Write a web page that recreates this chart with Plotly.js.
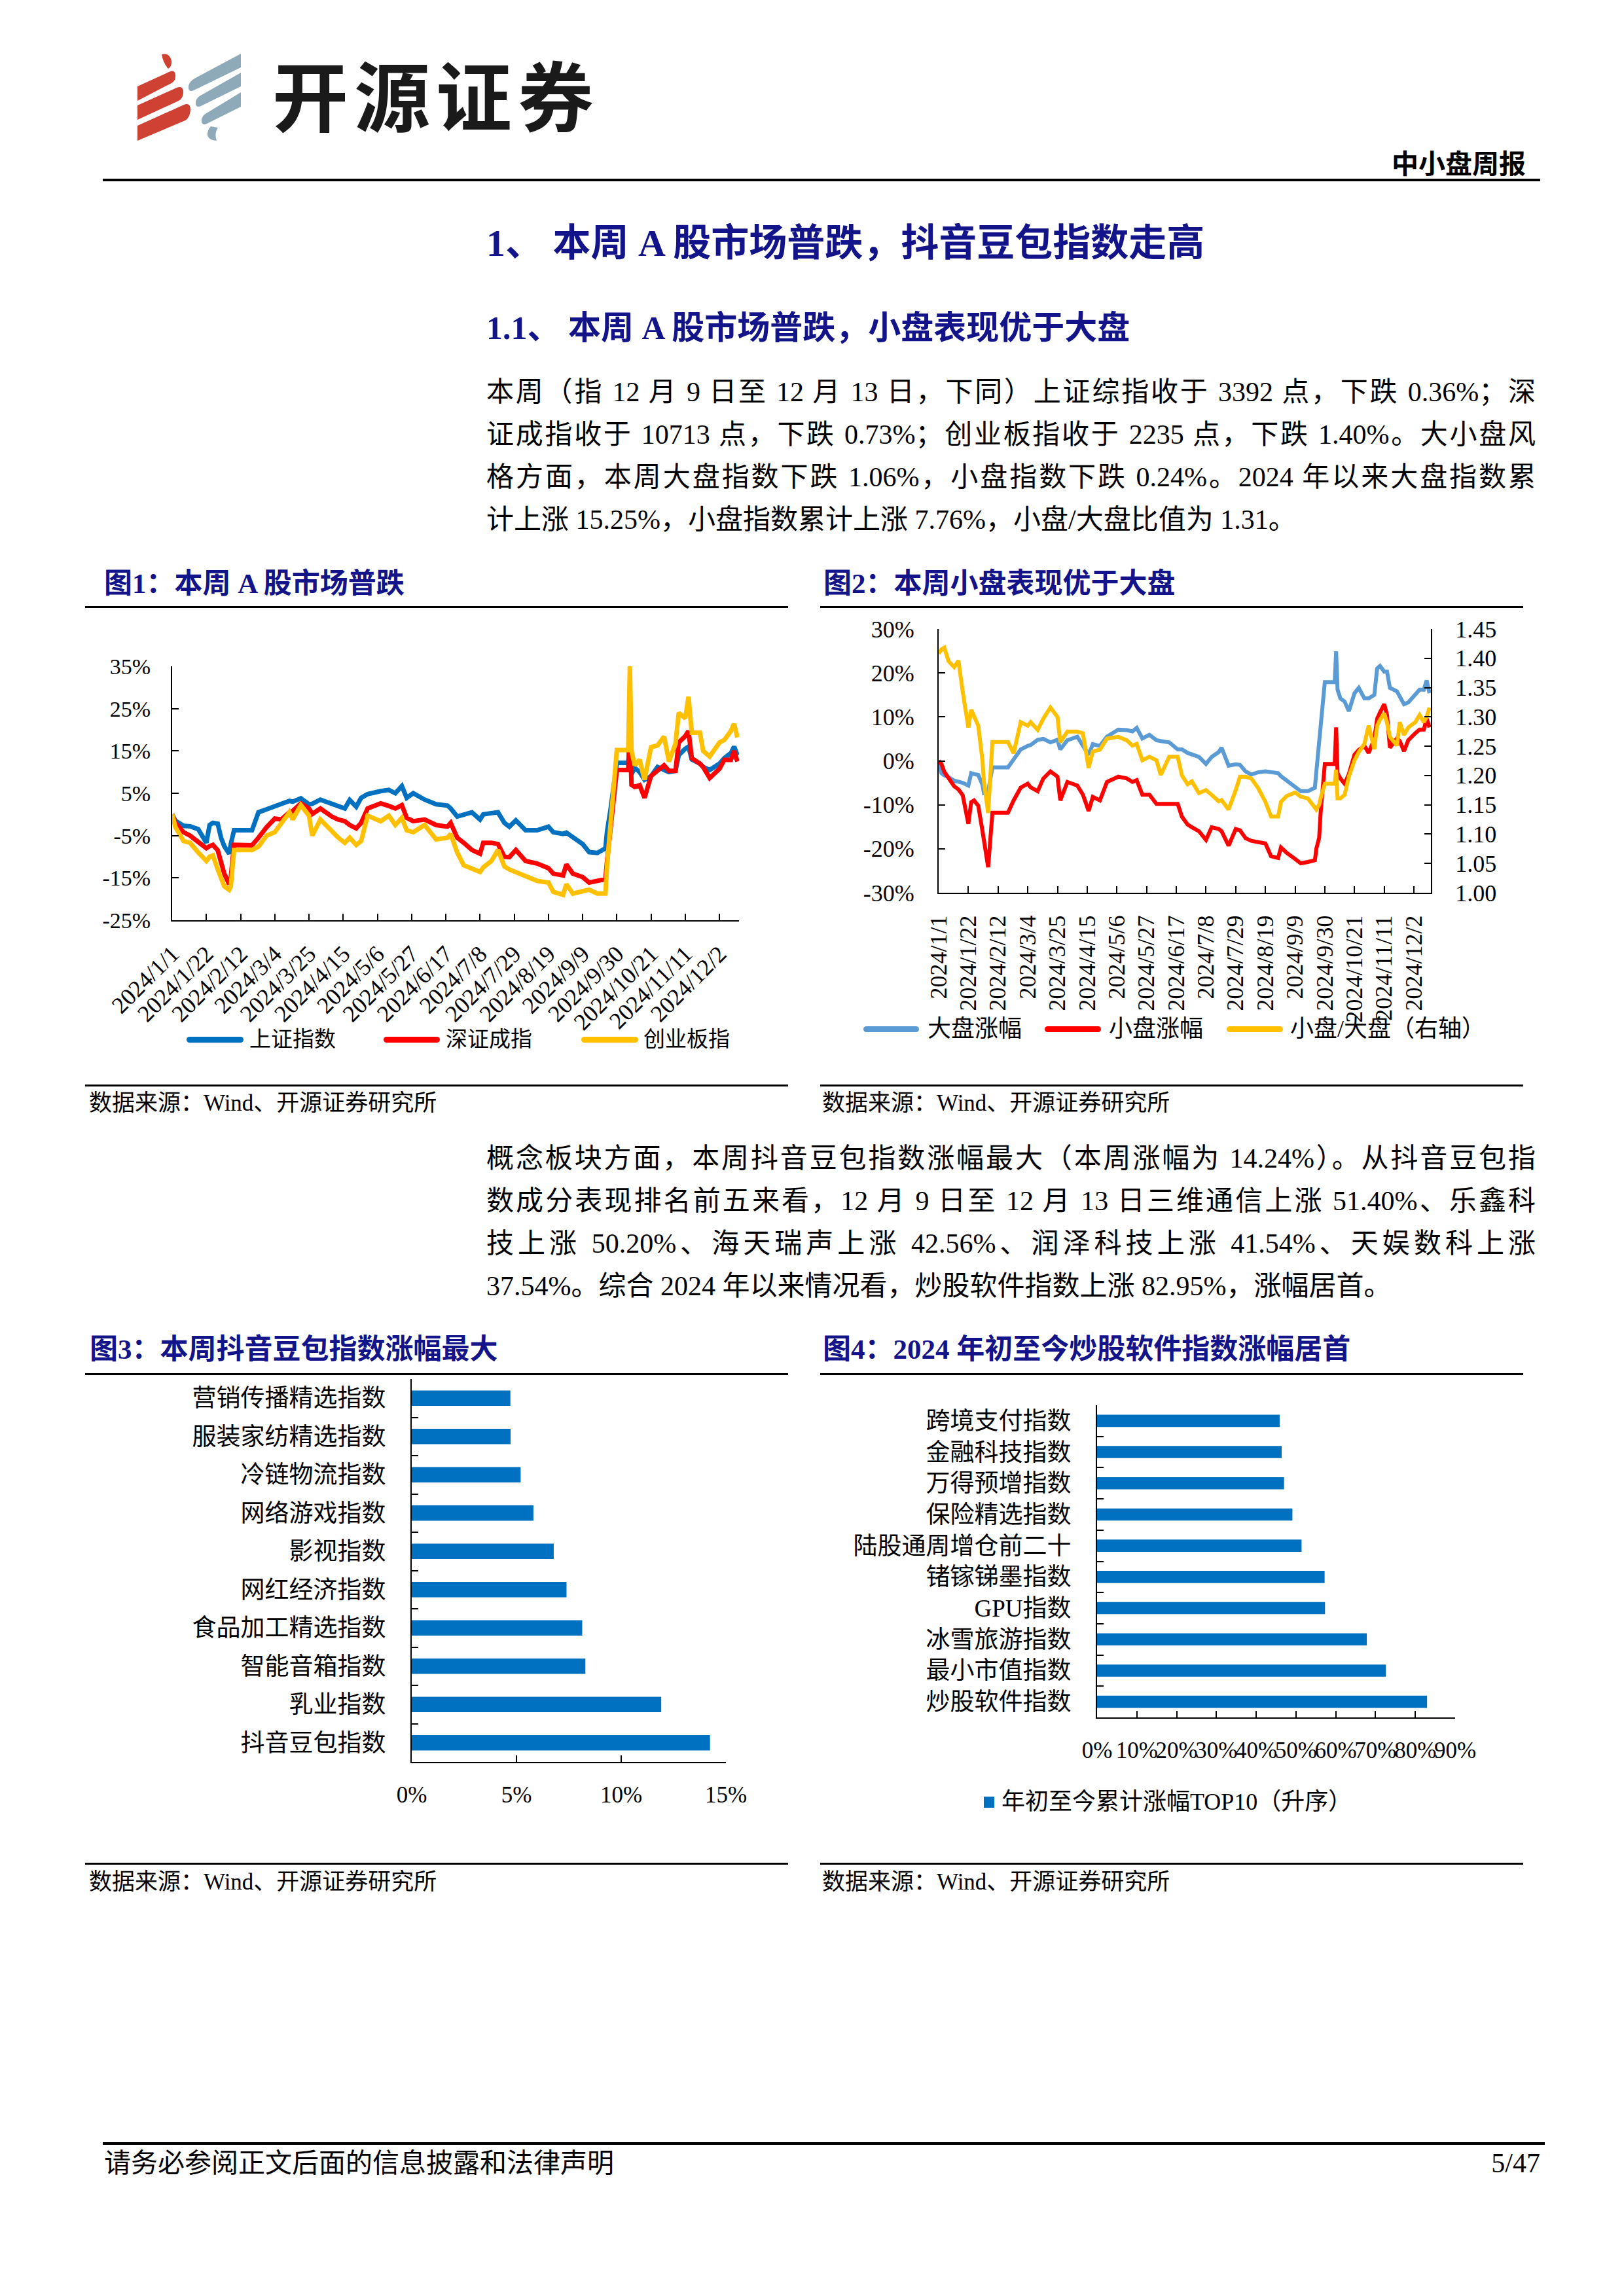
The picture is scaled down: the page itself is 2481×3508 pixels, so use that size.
<!DOCTYPE html>
<html><head><meta charset="utf-8">
<script src="https://cdn.plot.ly/plotly-3.0.1.min.js"></script>
<style>
html,body{margin:0;padding:0;background:#fff;}
#page{position:relative;width:2481px;height:3508px;overflow:hidden;background:#fff;font-family:"Liberation Serif","Noto Sans CJK SC",serif;color:#000;}
.t{position:absolute;white-space:nowrap;}
.j{position:absolute;white-space:normal;text-align:justify;text-align-last:justify;}
.rule{position:absolute;background:#000;}
.chart{position:absolute;}
</style></head><body><div id="page"></div>
<script>
// ---------------- DATA ----------------
const tickDates = ['2024-01-01','2024-01-22','2024-02-12','2024-03-04','2024-03-25','2024-04-15','2024-05-06','2024-05-27','2024-06-17','2024-07-08','2024-07-29','2024-08-19','2024-09-09','2024-09-30','2024-10-21','2024-11-11','2024-12-02'];
const tickText = ['2024/1/1','2024/1/22','2024/2/12','2024/3/4','2024/3/25','2024/4/15','2024/5/6','2024/5/27','2024/6/17','2024/7/8','2024/7/29','2024/8/19','2024/9/9','2024/9/30','2024/10/21','2024/11/11','2024/12/2'];

// Figure 1: cumulative change (%) since 2024-01-01
const c1Dates = ['2024-01-01','2024-01-03','2024-01-08','2024-01-12','2024-01-17','2024-01-22','2024-01-24','2024-01-26','2024-01-29','2024-01-31',
'2024-02-02','2024-02-05','2024-02-06','2024-02-08','2024-02-19','2024-02-23','2024-02-28','2024-03-04','2024-03-08','2024-03-13',
'2024-03-15','2024-03-20','2024-03-25','2024-03-27','2024-04-01','2024-04-08','2024-04-12','2024-04-16','2024-04-19','2024-04-23',
'2024-04-26','2024-04-30','2024-05-08','2024-05-13','2024-05-17','2024-05-21','2024-05-24','2024-05-28','2024-06-04','2024-06-11',
'2024-06-18','2024-06-20','2024-06-24','2024-06-28','2024-07-03','2024-07-08','2024-07-10','2024-07-15','2024-07-19','2024-07-23',
'2024-07-26','2024-07-30','2024-08-05','2024-08-12','2024-08-19','2024-08-22','2024-08-28','2024-08-30','2024-09-03','2024-09-09',
'2024-09-13','2024-09-18','2024-09-23','2024-09-24','2024-09-26','2024-09-27','2024-09-30','2024-10-07','2024-10-08','2024-10-09',
'2024-10-11','2024-10-14','2024-10-17','2024-10-21','2024-10-25','2024-10-29','2024-11-01','2024-11-05','2024-11-07','2024-11-11',
'2024-11-13','2024-11-15','2024-11-20','2024-11-22','2024-11-26','2024-12-02','2024-12-05','2024-12-09','2024-12-11','2024-12-13'];
const c1SH = [0,-1.5,-2.7,-2.8,-3.5,-6.7,-2.5,-2,-2.2,-5.5,
-7.5,-9.3,-7,-3.75,-3.75,0.5,1.2,2,2.5,3.2,
3,3.8,2.4,2.5,3.5,2.6,2,1.4,3.4,1.8,
3.9,4.8,5.5,5.8,5,6.7,3.9,5,3.5,2.4,
2.1,1.4,-0.5,0,0.5,-1.2,0,0.3,0.5,-2,
-2.9,-1.4,-3.75,-3.75,-2.9,-4.2,-4.6,-4.3,-5.3,-7,
-8.9,-9.1,-8,-4,0.8,3.9,12.2,12.2,17,9.5,
11,10,8.2,9,11.2,10.5,10,10.3,14,15.5,
16,13,12,11.2,10.5,12,13.3,14.5,16,14];
const c1SZ = [0,-2,-4.2,-5,-6.5,-8,-7.5,-7.2,-8.5,-11,
-14,-16.5,-15,-7.2,-7.3,-5.5,-3,-1,-1.2,0.5,
0.8,2.6,1.4,0.1,1.4,-0.5,-1.2,-1.6,-2.5,-3.3,
-2,1.4,2.6,2,1.4,2.2,-0.8,-1.6,-1.2,-2.5,
-2.9,-2,-5.5,-6.7,-8.4,-9.3,-6.7,-6.7,-7,-10,
-10.1,-8.4,-11,-11.6,-12.7,-14,-14.4,-11.8,-14,-14.8,
-16.1,-15.7,-15.3,-11,-4,-0.3,10.5,10.5,20,7,
6.5,6.9,3.9,9.1,10.3,11.6,10.3,10.3,17,18.5,
19.7,13.3,12,11.2,8.6,10.8,12.9,12.9,15,12.5];
const c1CY = [0,-3,-6.3,-6.7,-9,-11,-10,-9.7,-13,-15,
-17,-17.8,-17,-8.4,-8.4,-7.6,-5,-4.2,-2,0.5,
-1.2,2.2,-0.3,-5,-1.2,-4,-5.5,-6.7,-5.5,-7.2,
-6.3,-0.3,-1.6,-0.3,-2.5,-0.8,-3.75,-4.2,-2.5,-5.9,
-5.5,-4.6,-9,-12,-12.8,-13.6,-12.5,-11,-8.4,-12.3,
-13,-13.6,-14.4,-15.7,-16.1,-18.3,-19,-16.5,-18.7,-18.3,
-17.8,-18.7,-18.7,-12,-3,2,15.2,15.2,35,15,
11.6,12.9,8.2,15.9,16.3,18.4,12.5,16.7,24,22.7,
27.8,19.3,19.3,15,13.7,17,17.6,19.7,21.4,18.2];
const c1Names = ['上证指数','深证成指','创业板指'];
const c1YVals = [-25,-15,-5,5,15,25,35];
const c1YText = ['-25%','-15%','-5%','5%','15%','25%','35%'];

// Figure 2
const c2Dates = ['2024-01-01','2024-01-03','2024-01-05','2024-01-08','2024-01-12','2024-01-15','2024-01-18','2024-01-22','2024-01-24','2024-01-26',
'2024-01-29','2024-02-01','2024-02-02','2024-02-05','2024-02-08','2024-02-19','2024-02-23','2024-02-28','2024-03-04','2024-03-06',
'2024-03-11','2024-03-15','2024-03-20','2024-03-25','2024-03-27','2024-04-01','2024-04-08','2024-04-12','2024-04-16','2024-04-19',
'2024-04-24','2024-04-29','2024-05-07','2024-05-13','2024-05-17','2024-05-20','2024-05-24','2024-05-29','2024-06-03','2024-06-06',
'2024-06-12','2024-06-18','2024-06-21','2024-06-25','2024-06-28','2024-07-03','2024-07-08','2024-07-12','2024-07-17','2024-07-19',
'2024-07-24','2024-07-29','2024-08-01','2024-08-05','2024-08-09','2024-08-14','2024-08-19','2024-08-23','2024-08-28','2024-08-30',
'2024-09-03','2024-09-09','2024-09-13','2024-09-18','2024-09-23','2024-09-24','2024-09-26','2024-09-27','2024-09-30','2024-10-07',
'2024-10-08','2024-10-09','2024-10-11','2024-10-14','2024-10-17','2024-10-21','2024-10-24','2024-10-28','2024-10-31','2024-11-04',
'2024-11-06','2024-11-08','2024-11-11','2024-11-13','2024-11-15','2024-11-20','2024-11-22','2024-11-25','2024-11-28','2024-12-03',
'2024-12-06','2024-12-09','2024-12-11','2024-12-13'];
const c2Large = [0,-2.8,-3.3,-3.7,-4.5,-4.7,-5.0,-5.6,-2.8,-3.0,
-3.2,-5.5,-7.3,-7.0,-1.5,-1.5,0.5,2.6,3.4,3.6,
4.8,5.0,4.2,4.8,2.6,4.7,5.5,3.4,1.4,3.8,
3.4,5.5,7.1,7.0,6.7,7.5,5.1,5.9,4.7,4.5,
4.2,2.6,2.6,1.8,1.4,0.9,-0.7,0.9,2.0,3.0,
-1.1,-0.8,-0.9,-2.4,-3.1,-2.6,-2.4,-2.6,-2.8,-3.5,
-4.5,-5.9,-6.9,-6.9,-6.1,-2.5,5.0,8.8,17.9,17.9,
24.9,16.2,14.2,13.5,11.3,15.4,16.6,14.2,14.2,15.0,
21.0,21.6,20.3,20.3,16.6,15.8,14.5,12.9,13.3,15.0,
16.2,16.2,18.3,15.4];
const c2Small = [0,-0.7,-2.5,-3.8,-5.8,-6.5,-7.8,-14.3,-9.4,-9.0,
-10.2,-16.0,-18.4,-24.2,-11.8,-11.8,-9.0,-6.1,-5.2,-6.0,
-6.9,-4.0,-2.4,-3.6,-9.0,-4.8,-5.6,-7.7,-11.4,-8.2,
-9.0,-4.8,-3.6,-4.0,-4.8,-4.4,-7.7,-7.7,-9.8,-9.8,
-9.8,-9.8,-12.7,-14.5,-15.1,-16.0,-18.0,-15.1,-15.5,-16.0,
-19.3,-15.5,-15.8,-17.6,-18.2,-18.6,-18.8,-21.7,-22.1,-19.7,
-20.9,-22.3,-23.3,-23.0,-22.6,-20.0,-17.5,-12.0,-0.7,-0.7,
7.6,-2.8,-4.0,-5.2,-3.0,1.4,2.5,3.4,1.8,5.0,
9.6,11.0,12.9,10.4,3.0,5.1,4.5,2.2,4.7,6.3,
7.1,7.1,9.6,7.6];
const c2Ratio = [1.408,1.415,1.418,1.395,1.385,1.396,1.343,1.282,1.312,1.300,
1.285,1.225,1.190,1.136,1.257,1.257,1.238,1.291,1.285,1.291,
1.278,1.297,1.316,1.300,1.257,1.275,1.275,1.272,1.213,1.241,
1.244,1.263,1.266,1.260,1.251,1.254,1.226,1.232,1.226,1.201,
1.232,1.232,1.200,1.185,1.190,1.170,1.175,1.167,1.156,1.158,
1.142,1.175,1.198,1.198,1.195,1.178,1.155,1.130,1.130,1.155,
1.165,1.171,1.164,1.161,1.145,1.142,1.150,1.161,1.186,1.186,
1.210,1.161,1.161,1.167,1.198,1.226,1.240,1.254,1.285,1.245,
1.285,1.295,1.306,1.290,1.266,1.251,1.291,1.269,1.282,1.291,
1.303,1.291,1.300,1.316];
const c2Names = ['大盘涨幅','小盘涨幅','小盘/大盘（右轴）'];
const c2LVals = [-30,-20,-10,0,10,20,30];
const c2LText = ['-30%','-20%','-10%','0%','10%','20%','30%'];
const c2RVals = [1.00,1.05,1.10,1.15,1.20,1.25,1.30,1.35,1.40,1.45];
const c2RText = ['1.00','1.05','1.10','1.15','1.20','1.25','1.30','1.35','1.40','1.45'];

// Figure 3: weekly change (%)
const c3Cats = ['营销传播精选指数','服装家纺精选指数','冷链物流指数','网络游戏指数','影视指数','网红经济指数','食品加工精选指数','智能音箱指数','乳业指数','抖音豆包指数'];
const c3Vals = [4.71,4.72,5.20,5.81,6.78,7.39,8.14,8.29,11.91,14.24];

// Figure 4: YTD change (%)
const c4Cats = ['跨境支付指数','金融科技指数','万得预增指数','保险精选指数','陆股通周增仓前二十','锗镓锑墨指数','GPU指数','冰雪旅游指数','最小市值指数','炒股软件指数'];
const c4Vals = [45.9,46.4,47.0,49.1,51.4,57.2,57.3,67.8,72.6,82.95];
const c4Name = '年初至今累计涨幅TOP10（升序）';

// ---------------- PAGE ----------------
const FONT = 'Liberation Serif, Noto Sans CJK SC, serif';
const NAVY = '#13138a';
const page = document.getElementById('page');

function addText(str, o) {
  const d = document.createElement('div');
  d.className = o.justify ? 'j' : 't';
  d.textContent = str;
  const lh = Math.round(o.size * 1.3);
  d.style.fontSize = o.size + 'px';
  d.style.lineHeight = lh + 'px';
  d.style.top = (o.cy - lh / 2) + 'px';
  if (o.right != null) { d.style.right = (2481 - o.right) + 'px'; d.style.textAlign = 'right'; }
  else d.style.left = o.left + 'px';
  if (o.width) d.style.width = o.width + 'px';
  if (o.bold) d.style.fontWeight = 'bold';
  if (o.color) d.style.color = o.color;
  if (o.ls) d.style.letterSpacing = o.ls + 'px';
  page.appendChild(d);
  return d;
}
function addRule(left, top, width, height, color) {
  const d = document.createElement('div');
  d.className = 'rule';
  Object.assign(d.style, {left: left + 'px', top: top + 'px', width: width + 'px', height: height + 'px'});
  if (color) d.style.background = color;
  page.appendChild(d);
  return d;
}

// logo (company mark)
page.insertAdjacentHTML('beforeend',
 '<svg style="position:absolute;left:0;top:0" width="400" height="240" viewBox="0 0 400 240">' +
 '<g fill="#cf4132">' +
 '<path d="M247,83 Q259,80 262,93 Q263,101 257,105 Q249,96 247,83 Z"/>' +
 '<path d="M210,132 L258,110 Q268,105 268,116 Q268,124 262,127 L210,154 Z"/>' +
 '<path d="M210,161 L270,134 Q280,130 280,141 Q280,150 273,154 L210,183 Z"/>' +
 '<path d="M210,192 L281,160 Q291,156 291,168 Q290,180 283,184 L210,215 Z"/>' +
 '</g><g fill="#8eaab8">' +
 '<path d="M368,82 L368,103 L296,138 Q287,142 288,131 Q290,124 297,120 Z"/>' +
 '<path d="M368,111 L368,132 L307,162 Q298,166 299,155 Q301,148 308,145 Z"/>' +
 '<path d="M368,141 L368,163 L316,189 Q307,193 308,182 Q310,175 317,172 Z"/>' +
 '<path d="M322,193 Q316,200 317,207 Q319,214 331,215 Q327,204 333,195 Z"/>' +
 '</g></svg>');
addText('开源证券', {left: 416, cy: 153, size: 116, bold: true, ls: 9, color: '#1a1a1a'});
addText('中小盘周报', {right: 2331, cy: 251, size: 41, bold: true});
addRule(157, 273, 2196, 4);

addText('1、 本周 A 股市场普跌，抖音豆包指数走高', {left: 743, cy: 371, size: 58, bold: true, color: NAVY});
addText('1.1、 本周 A 股市场普跌，小盘表现优于大盘', {left: 743, cy: 501, size: 50, bold: true, color: NAVY});

const para1 = [
 '本周（指 12 月 9 日至 12 月 13 日，下同）上证综指收于 3392 点，下跌 0.36%；深',
 '证成指收于 10713 点，下跌 0.73%；创业板指收于 2235 点，下跌 1.40%。大小盘风',
 '格方面，本周大盘指数下跌 1.06%，小盘指数下跌 0.24%。2024 年以来大盘指数累',
 '计上涨 15.25%，小盘指数累计上涨 7.76%，小盘/大盘比值为 1.31。'
];
para1.forEach((s, i) => addText(s, {left: 743, cy: 599 + 65 * i, size: 42, width: i < 3 ? 1603 : null, justify: i < 3}));
const para2 = [
 '概念板块方面，本周抖音豆包指数涨幅最大（本周涨幅为 14.24%）。从抖音豆包指',
 '数成分表现排名前五来看，12 月 9 日至 12 月 13 日三维通信上涨 51.40%、乐鑫科',
 '技上涨 50.20%、海天瑞声上涨 42.56%、润泽科技上涨 41.54%、天娱数科上涨',
 '37.54%。综合 2024 年以来情况看，炒股软件指数上涨 82.95%，涨幅居首。'
];
para2.forEach((s, i) => addText(s, {left: 743, cy: 1770 + 65 * i, size: 42, width: i < 3 ? 1603 : null, justify: i < 3}));

// figure titles and rules
addText('图1：本周 A 股市场普跌', {left: 159, cy: 892, size: 43, bold: true, color: NAVY});
addText('图2：本周小盘表现优于大盘', {left: 1258, cy: 892, size: 43, bold: true, color: NAVY});
addText('图3：本周抖音豆包指数涨幅最大', {left: 137, cy: 2062, size: 43, bold: true, color: NAVY});
addText('图4：2024 年初至今炒股软件指数涨幅居首', {left: 1257, cy: 2062, size: 43, bold: true, color: NAVY});
addRule(130, 926, 1074, 3); addRule(1253, 926, 1074, 3);
addRule(130, 1657, 1074, 3); addRule(1253, 1657, 1074, 3);
addRule(130, 2098, 1074, 3); addRule(1253, 2098, 1074, 3);
addRule(130, 2846, 1074, 3); addRule(1253, 2846, 1074, 3);
addText('数据来源：Wind、开源证券研究所', {left: 136, cy: 1686, size: 35});
addText('数据来源：Wind、开源证券研究所', {left: 1256, cy: 1686, size: 35});
addText('数据来源：Wind、开源证券研究所', {left: 136, cy: 2876, size: 35});
addText('数据来源：Wind、开源证券研究所', {left: 1256, cy: 2876, size: 35});

// footer
addRule(157, 3273, 2203, 4);
addText('请务必参阅正文后面的信息披露和法律声明', {left: 159, cy: 3305, size: 41});
addText('5/47', {right: 2353, cy: 3305, size: 42});

// ---------------- CHARTS ----------------
function chartDiv(id, L, T, W, H) {
  const d = document.createElement('div');
  d.id = id; d.className = 'chart';
  Object.assign(d.style, {left: L + 'px', top: T + 'px', width: W + 'px', height: H + 'px'});
  page.appendChild(d);
  return {L, T, W, H};
}
function margins(b, x0, x1, y0, y1) {
  return {l: x0 - b.L, r: b.L + b.W - x1, t: y0 - b.T, b: b.T + b.H - y1, pad: 0};
}
function legendLine(names, colors, items, cy, size, thick) {
  names.forEach((n, i) => {
    const it = items[i];
    const bar = addRule(it[0], cy - thick / 2, it[1] - it[0], thick, colors[i]);
    bar.style.borderRadius = (thick / 2) + 'px';
    addText(n, {left: it[2], cy: cy, size: size});
  });
}
const axBase = {showline: true, linecolor: '#000', linewidth: 2, ticks: 'inside', tickcolor: '#000',
  tickwidth: 2, ticklen: 10, showgrid: false, zeroline: false, fixedrange: true};
const cfg = {staticPlot: true, displayModeBar: false};

// Chart 1
const b1 = chartDiv('c1', 130, 935, 1080, 722);
const c1Cols = ['#0070C0', '#FF0000', '#FFC000'];
const c1Series = [c1SH, c1SZ, c1CY];
Plotly.newPlot('c1', c1Series.map((s, i) => ({x: c1Dates, y: s, name: c1Names[i], type: 'scatter', mode: 'lines',
  line: {color: c1Cols[i], width: 7}})), {
  width: b1.W, height: b1.H, margin: margins(b1, 263, 1129, 1018, 1406),
  paper_bgcolor: 'rgba(0,0,0,0)', plot_bgcolor: 'rgba(0,0,0,0)', showlegend: false,
  font: {family: FONT, color: '#000'},
  xaxis: Object.assign({}, axBase, {type: 'date', range: ['2024-01-01', '2024-12-14'], tickmode: 'array',
    tickvals: tickDates, ticktext: tickText, tickangle: -45, tickfont: {size: 36, family: FONT}, ticklabelstandoff: 14}),
  yaxis: Object.assign({}, axBase, {range: [-25, 35], tickmode: 'array', tickvals: c1YVals, ticktext: c1YText,
    tickfont: {size: 34, family: FONT}, ticklabelstandoff: 24})
}, cfg);
legendLine(c1Names, c1Cols, [[285, 372, 381], [586, 672, 681], [888, 975, 983]], 1588, 33, 9);

// Chart 2
const b2 = chartDiv('c2', 1250, 935, 1090, 722);
const c2Cols = ['#5B9BD5', '#FF0000', '#FFC000'];
Plotly.newPlot('c2', [
  {x: c2Dates, y: c2Large, name: c2Names[0], type: 'scatter', mode: 'lines', line: {color: c2Cols[0], width: 6}},
  {x: c2Dates, y: c2Small, name: c2Names[1], type: 'scatter', mode: 'lines', line: {color: c2Cols[1], width: 6}},
  {x: c2Dates, y: c2Ratio, name: c2Names[2], type: 'scatter', mode: 'lines', yaxis: 'y2', line: {color: c2Cols[2], width: 6}}
], {
  width: b2.W, height: b2.H, margin: margins(b2, 1434, 2186, 961, 1364),
  paper_bgcolor: 'rgba(0,0,0,0)', plot_bgcolor: 'rgba(0,0,0,0)', showlegend: false,
  font: {family: FONT, color: '#000'},
  xaxis: Object.assign({}, axBase, {type: 'date', range: ['2024-01-01', '2024-12-14'], tickmode: 'array',
    tickvals: tickDates, ticktext: tickText, tickangle: -90, tickfont: {size: 36, family: FONT}, ticklabelstandoff: 18}),
  yaxis: Object.assign({}, axBase, {range: [-30, 30], tickmode: 'array', tickvals: c2LVals, ticktext: c2LText,
    tickfont: {size: 36, family: FONT}, ticklabelstandoff: 28}),
  yaxis2: Object.assign({}, axBase, {overlaying: 'y', side: 'right', range: [1.0, 1.45], tickmode: 'array',
    tickvals: c2RVals, ticktext: c2RText, tickfont: {size: 36, family: FONT}, ticklabelstandoff: 28})
}, cfg);
legendLine(c2Names, c2Cols, [[1319, 1404, 1417], [1596, 1682, 1694], [1874, 1960, 1971]], 1572, 36, 9);

// Chart 3
const b3 = chartDiv('c3', 130, 2100, 1080, 742);
Plotly.newPlot('c3', [{type: 'bar', orientation: 'h', y: c3Cats, x: c3Vals, marker: {color: '#0070C0'}}], {
  width: b3.W, height: b3.H, margin: margins(b3, 629, 1109, 2107, 2692),
  paper_bgcolor: 'rgba(0,0,0,0)', plot_bgcolor: 'rgba(0,0,0,0)', showlegend: false, bargap: 0.6,
  font: {family: FONT, color: '#000'},
  xaxis: Object.assign({}, axBase, {range: [0, 15], tickmode: 'linear', tick0: 0, dtick: 5, ticksuffix: '%', tickangle: 0,
    tickfont: {size: 35, family: FONT}, ticklabelstandoff: 18}),
  yaxis: Object.assign({}, axBase, {type: 'category', categoryorder: 'array', categoryarray: c3Cats, autorange: 'reversed',
    tickson: 'boundaries', tickfont: {size: 37, family: FONT}, ticklabelstandoff: 30})
}, cfg);

// Chart 4
const b4 = chartDiv('c4', 1250, 2100, 1090, 742);
Plotly.newPlot('c4', [{type: 'bar', orientation: 'h', y: c4Cats, x: c4Vals, name: c4Name, marker: {color: '#0070C0'}}], {
  width: b4.W, height: b4.H, margin: margins(b4, 1676, 2223, 2147, 2624),
  paper_bgcolor: 'rgba(0,0,0,0)', plot_bgcolor: 'rgba(0,0,0,0)', showlegend: false, bargap: 0.61,
  font: {family: FONT, color: '#000'},
  xaxis: Object.assign({}, axBase, {range: [0, 90], tickmode: 'linear', tick0: 0, dtick: 10, ticksuffix: '%', tickangle: 0,
    tickfont: {size: 35, family: FONT}, ticklabelstandoff: 18}),
  yaxis: Object.assign({}, axBase, {type: 'category', categoryorder: 'array', categoryarray: c4Cats, autorange: 'reversed',
    tickson: 'boundaries', tickfont: {size: 37, family: FONT}, ticklabelstandoff: 30})
}, cfg);
addRule(1503, 2745, 16, 17, '#0070C0');
addText(c4Name, {left: 1530, cy: 2753, size: 36});
</script></body></html>
